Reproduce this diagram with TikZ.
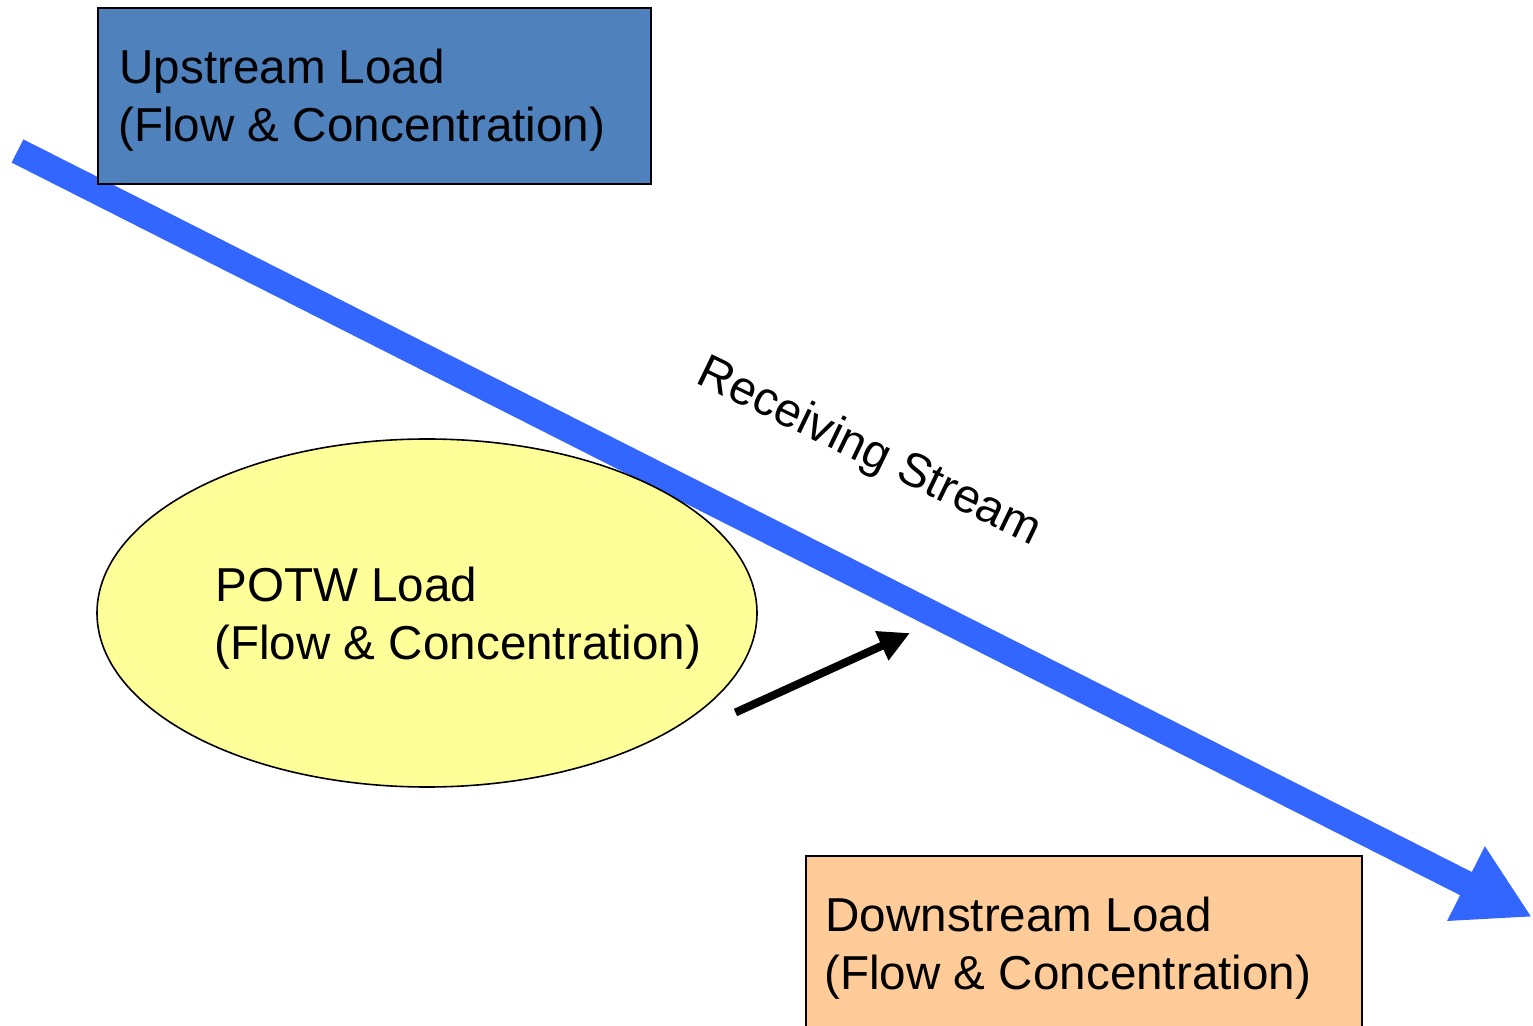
\documentclass[tikz,border=0pt]{standalone}
\usepackage{fontspec}
\setmainfont{Liberation Sans}
\usetikzlibrary{arrows.meta,shapes.geometric}

\definecolor{upblue}{HTML}{4F81BD}
\definecolor{streamblue}{HTML}{3366FF}
\definecolor{potwyellow}{HTML}{FFFF99}
\definecolor{downorange}{HTML}{FFCC99}

\tikzset{
  loadbox/.style={draw=black, line width=1pt, rectangle, inner sep=0pt, anchor=north west},
  loadtext/.style={inner sep=0pt, anchor=base west, font=\fontsize{23.8}{29}\selectfont},
  stream/.style={draw=streamblue, line width=13pt,
    -{Triangle[length=37pt, width=39pt]}},
  inflow/.style={draw=black, line width=4pt,
    -{Triangle[length=15.5pt, width=15pt]}},
}

\begin{document}
\begin{tikzpicture}[x=0.5pt, y=-0.5pt]
  \clip (0,0) rectangle (1533,1026);
  \fill[white] (0,0) rectangle (1533,1026);

  % the receiving stream
  \coordinate (streamsrc) at (17.5,151);
  \coordinate (streamend) at (1532,917);
  \draw[stream] (streamsrc) -- (streamend);

  \node[loadtext, rotate=-25.8] (streamlbl) at (694,382) {Receiving Stream};

  % upstream load
  \node[loadbox, fill=upblue, minimum width=276.5pt, minimum height=88pt] (up) at (97,7) {};
  \node[loadtext] (upA) at (119,83.5) {Upstream Load};
  \node[loadtext] (upB) at (118,141.5) {(Flow \& Concentration)};

  % POTW load
  \node[ellipse, draw=black, line width=0.8pt, fill=potwyellow, inner sep=0pt,
        minimum width=330pt, minimum height=174pt] (potw) at (427,613) {};
  \node[loadtext] (potwA) at (215,601.5) {POTW Load};
  \node[loadtext] (potwB) at (214,659.5) {(Flow \& Concentration)};

  % discharge into the stream
  \coordinate (outfall) at (735.5,712.5);
  \coordinate (mixpt) at (910,633);
  \draw[inflow] (outfall) -- (mixpt);

  % downstream load
  \node[loadbox, fill=downorange, minimum width=278pt, minimum height=100pt] (down) at (805,855) {};
  \node[loadtext] (downA) at (825,931.5) {Downstream Load};
  \node[loadtext] (downB) at (824,989.5) {(Flow \& Concentration)};
\end{tikzpicture}
\end{document}
